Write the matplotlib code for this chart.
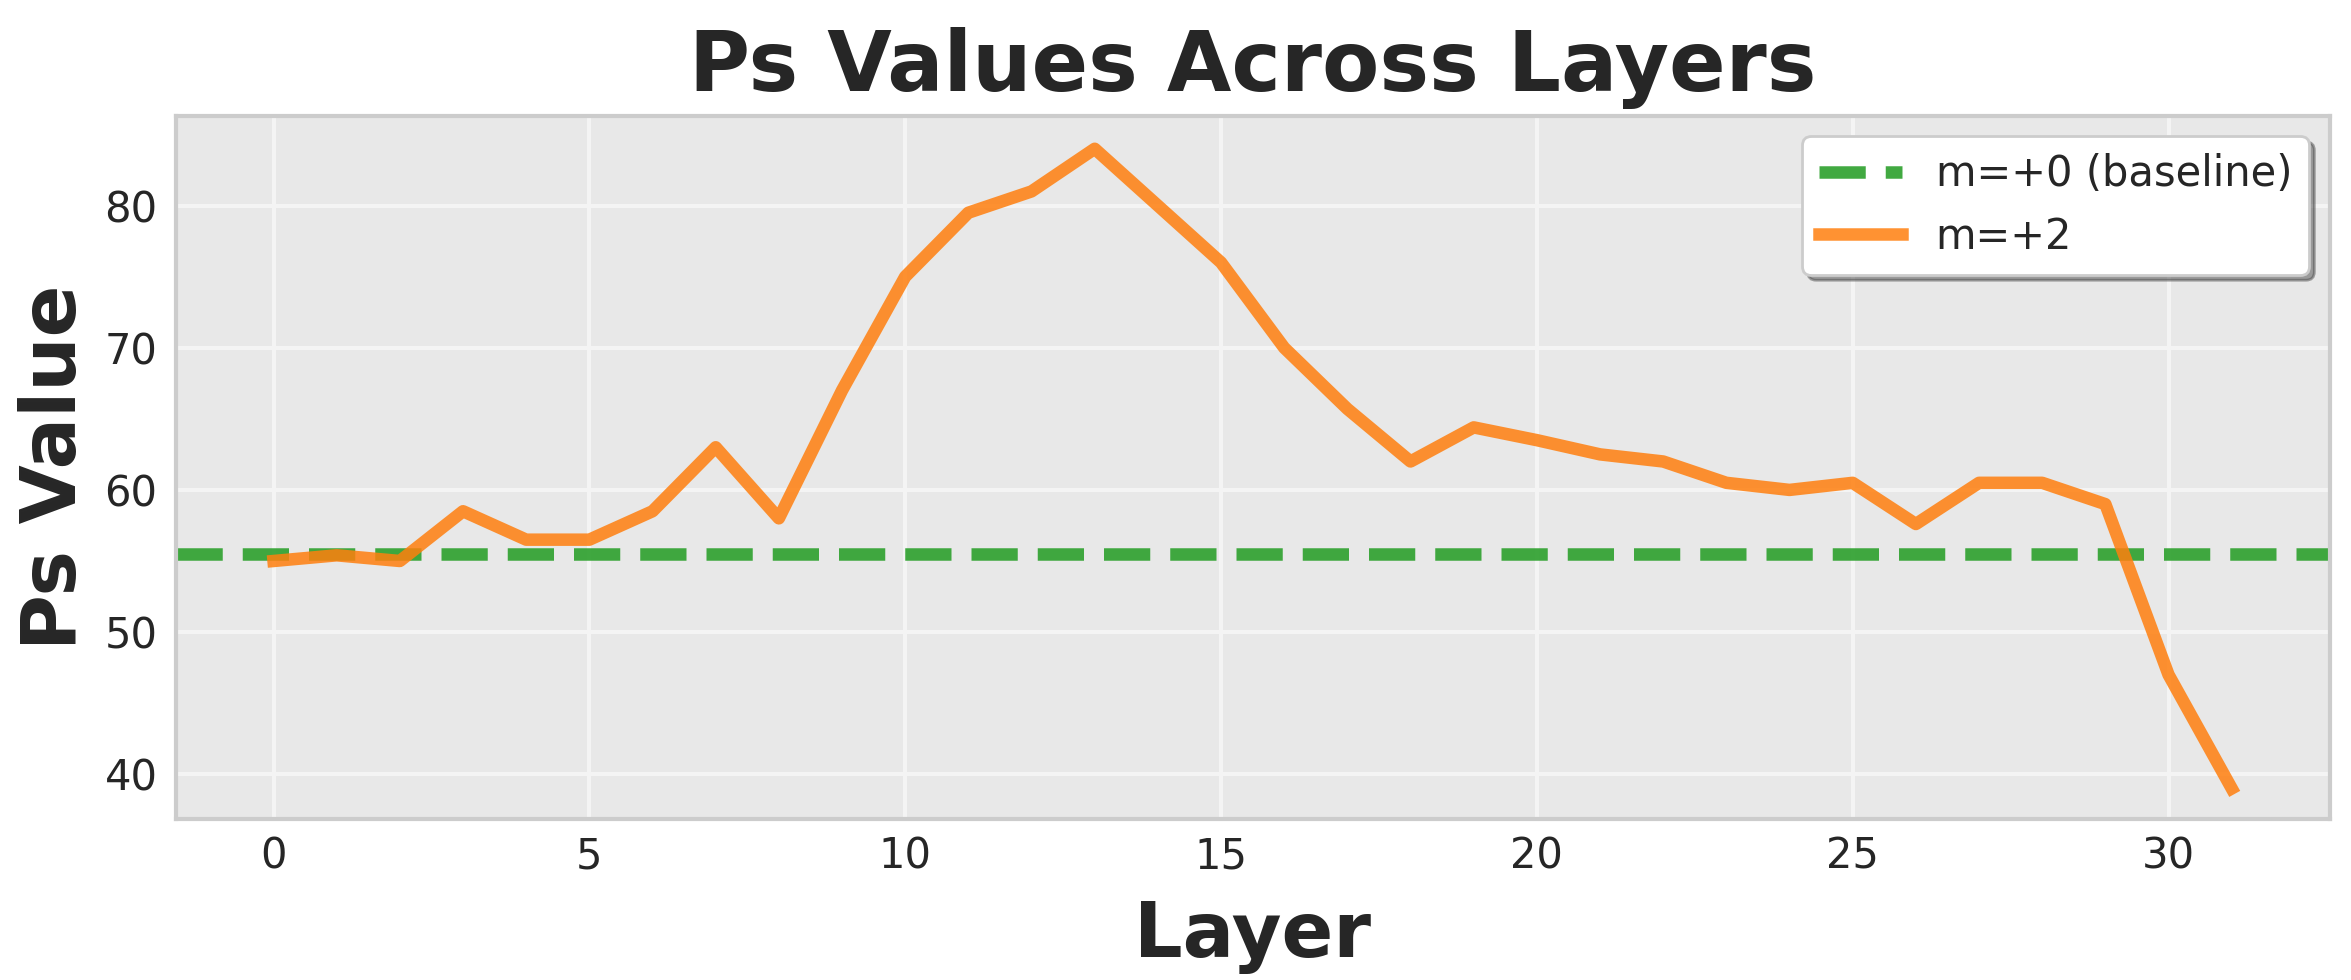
import matplotlib
matplotlib.use("Agg")
import matplotlib.pyplot as plt
import numpy as np

layers = list(range(32))
ps_m2 = [55.0, 55.4, 55.0, 58.5, 56.5, 56.5, 58.5, 63.0, 58.0, 67.0,
         75.0, 79.5, 81.0, 84.0, 80.0, 76.0, 70.0, 65.7, 62.0, 64.4,
         63.5, 62.5, 62.0, 60.5, 60.0, 60.5, 57.6, 60.5, 60.5, 59.0,
         47.0, 39.0]
baseline = 55.5
xticks = [0, 5, 10, 15, 20, 25, 30]
yticks = [40, 50, 60, 70, 80]

plt.rcParams['font.family'] = ['DejaVu Sans']
fig = plt.figure(figsize=(11.755, 4.9), dpi=200)
ax = fig.add_axes([0.0747, 0.164, 0.9162, 0.718])
ax.set_facecolor('#e8e8e8')
for s in ax.spines.values():
    s.set_color('#cccccc')
    s.set_linewidth(1.5)
ax.grid(True, color='#f4f4f4', linewidth=1.5)
ax.set_axisbelow(True)

ax.axhline(baseline, color='#2ca02c', linestyle='--', linewidth=4.5, alpha=0.9,
           label='m=+0 (baseline)')
ax.plot(layers, ps_m2, color='#ff7f0e', linewidth=4.5, alpha=0.85, label='m=+2')

ax.set_xlim(-1.55, 32.55)
ax.set_ylim(36.83, 86.33)
ax.set_xticks(xticks)
ax.set_yticks(yticks)
ax.tick_params(axis='x', labelsize=15, colors='#262626', length=0, pad=5.9)
ax.tick_params(axis='y', labelsize=15, colors='#262626', length=0, pad=6.5)

ax.set_title('Ps Values Across Layers', fontsize=30, fontweight='bold', color='#262626', pad=9)
ax.set_xlabel('Layer', fontsize=27.5, fontweight='bold', color='#262626', labelpad=7.9)
ax.set_ylabel('Ps Value', fontsize=27.5, fontweight='bold', color='#262626', labelpad=4.5)

leg = ax.legend(loc='upper right', fontsize=15, frameon=True, shadow=True, fancybox=True,
                facecolor='white', edgecolor='#cccccc', framealpha=1.0)
for t in leg.get_texts():
    t.set_color('#262626')

fig.savefig('out.png', dpi=200)
